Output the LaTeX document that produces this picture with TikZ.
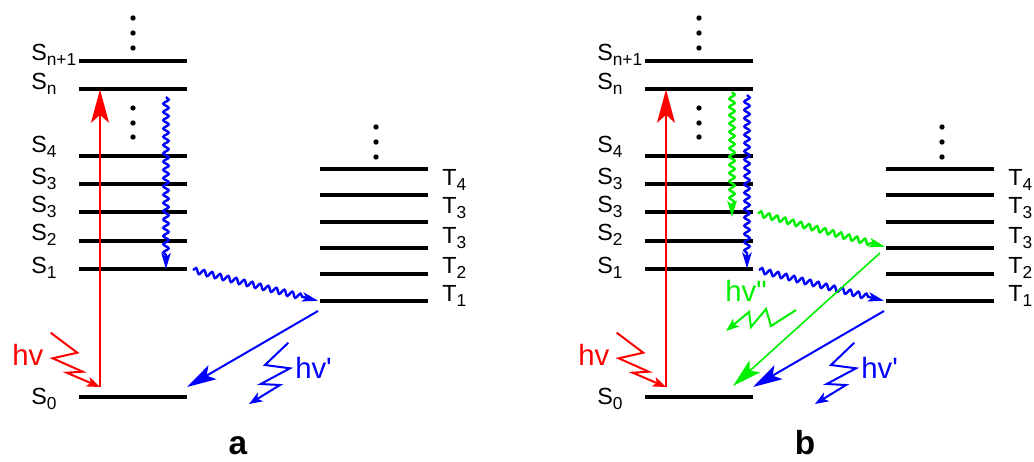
\documentclass[tikz,border=0pt]{standalone}
\usepackage{fontspec}
\setmainfont{Liberation Sans}
\usetikzlibrary{arrows.meta,decorations.pathmorphing}
\definecolor{myred}{RGB}{255,0,0}
\definecolor{myblue}{RGB}{0,0,255}
\definecolor{mygreen}{RGB}{0,240,0}
\newcommand\lsub[1]{\raisebox{-4pt}{\fontsize{13}{13}\selectfont #1}}
\newcommand\commonpanel[1]{%
  % singlet levels
  \foreach \yy in {61,89,155.5,184,212.3,240.5,268.7,396.7}{\draw[lvl] (79,\yy) -- (187,\yy);}
  % triplet levels
  \foreach \yy in {169,195.3,221.7,247.7,274,300.7}{\draw[lvl] (320,\yy) -- (428,\yy);}
  % dots
  \foreach \yy in {18,33,48,108,123,137}{\fill (133,\yy) circle (2pt);}
  \foreach \yy in {127,142,157}{\fill (376,\yy) circle (2pt);}
  % S labels
  \node[lab] (#1Snp) at (31,60) {S\lsub{n+1}};
  \node[lab] (#1Sn) at (31,89) {S\lsub{n}};
  \node[lab] (#1S4) at (31,152) {S\lsub{4}};
  \node[lab] (#1S3b) at (31,184) {S\lsub{3}};
  \node[lab] (#1S3a) at (31,212.3) {S\lsub{3}};
  \node[lab] (#1S2) at (31,240.5) {S\lsub{2}};
  \node[lab] (#1S1) at (31,273) {S\lsub{1}};
  \node[lab] (#1S0) at (31,404) {S\lsub{0}};
  % T labels
  \node[lab] (#1T4) at (442,185) {T\lsub{4}};
  \node[lab] (#1T3b) at (442,213) {T\lsub{3}};
  \node[lab] (#1T3a) at (442,243) {T\lsub{3}};
  \node[lab] (#1T2) at (442,273) {T\lsub{2}};
  \node[lab] (#1T1) at (442,301) {T\lsub{1}};
  % coordinates
  \coordinate (#1absS) at (100,387);
  \coordinate (#1absE) at (100,89.5);
  \coordinate (#1iscS) at (193,270);
  \coordinate (#1iscE) at (318,300.7);
  \coordinate (#1phS) at (318,311);
  \coordinate (#1phE) at (187,387);
  % absorption
  \draw[myred, line width=1.5pt, -{Stealth[length=25pt,width=13.5pt,inset=6pt]}] (#1absS) -- (#1absE);
  \draw[myred, zig, -{Stealth[length=10pt,width=7.5pt,inset=2.5pt]}]
     (50.7,332.7) -- (77.3,352.7) -- (52.7,358.3) -- (82.7,371.7) -- (66.7,372.7) -- (#1absS);
  \node[hvlab, text=myred] (#1hv) at (12,365) {hv};
  % ISC
  \draw[myblue, wav, -{Stealth[length=12pt,width=7pt,inset=3pt]}] (#1iscS) -- (#1iscE);
  % phosphorescence
  \draw[myblue, line width=1.5pt, -{Stealth[length=22pt,width=12pt,inset=5pt]}] (#1phS) -- (#1phE);
  \draw[myblue, zig, -{Stealth[length=10pt,width=7.5pt,inset=2.5pt]}]
     (288.3,342.7) -- (265,365) -- (290,368.3) -- (260.7,384) -- (280,385) -- (249,404);
  \node[hvlab, text=myblue] (#1hvp) at (295,378) {hv\textquotesingle};
}
\begin{document}
\begin{tikzpicture}[x=0.75pt,y=-0.75pt,
  lvl/.style={line width=3pt, black},
  lab/.style={anchor=base west, inner sep=0pt, font=\fontsize{17.5}{20}\selectfont},
  hvlab/.style={anchor=base west, inner sep=0pt, font=\fontsize{22}{24}\selectfont},
  zig/.style={line width=1.5pt, line join=miter},
  wav/.style={line width=1.8pt, decorate, decoration={snake, segment length=6.2pt, amplitude=2pt, post length=9pt}},
  panlab/.style={anchor=base, inner sep=0pt, font=\fontsize{25}{25}\selectfont\bfseries}]
\useasboundingbox (0,0) rectangle (1034,461);
% panel a
\begin{scope}
  \commonpanel{a}
  \coordinate (aicS) at (166,97);
  \coordinate (aicE) at (166,269);
  \draw[myblue, wav, -{Stealth[length=12pt,width=7pt,inset=3pt]}] (aicS) -- (aicE);
  \node[panlab] (alab) at (238,454) {a};
\end{scope}
% panel b
\begin{scope}[shift={(566,0)}]
  \commonpanel{b}
  \coordinate (bicS) at (181,95);
  \coordinate (bicE) at (181,268.5);
  \coordinate (gicS) at (166,92);
  \coordinate (gicE) at (166,217);
  \coordinate (giscS) at (192,213.3);
  \coordinate (giscE) at (319,246.7);
  \coordinate (gfS) at (314,253);
  \coordinate (gfE) at (167,386);
  \draw[myblue, wav, -{Stealth[length=12pt,width=7pt,inset=3pt]}] (bicS) -- (bicE);
  \draw[mygreen, wav, -{Stealth[length=12pt,width=7pt,inset=3pt]}] (gicS) -- (gicE);
  \draw[mygreen, wav, -{Stealth[length=12pt,width=7pt,inset=3pt]}] (giscS) -- (giscE);
  \draw[mygreen, line width=1.2pt, -{Stealth[length=22pt,width=12pt,inset=5pt]}] (gfS) -- (gfE);
  \draw[mygreen, zig, -{Stealth[length=10pt,width=7.5pt,inset=2.5pt]}]
     (230,310) -- (205,326) -- (200,309) -- (185,327) -- (183,312) -- (160,331);
  \node[hvlab, text=mygreen] (bhvpp) at (159,301) {hv\textquotedbl};
  \node[panlab] (blab) at (239,454) {b};
\end{scope}
\end{tikzpicture}
\end{document}
